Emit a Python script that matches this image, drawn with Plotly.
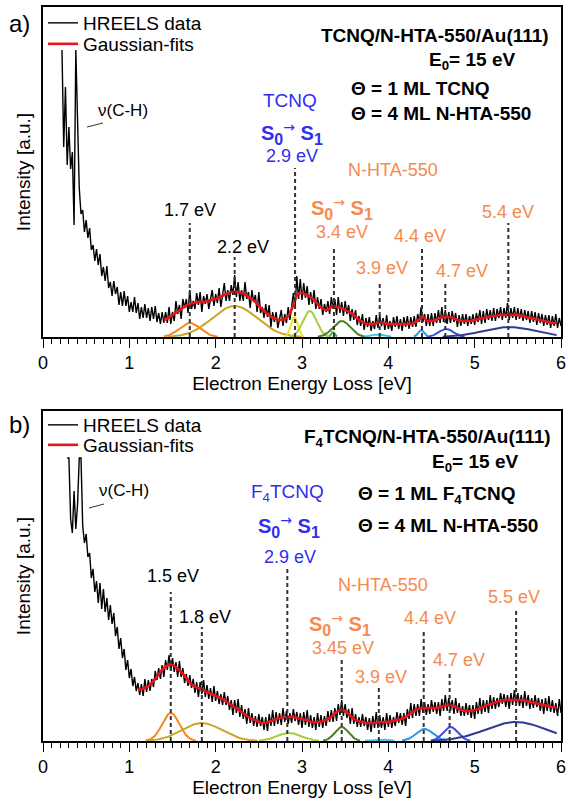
import numpy as np
import plotly.graph_objects as go
from plotly.subplots import make_subplots

# ============ DATA (intensity in arbitrary units) ============
# ---- panel a) TCNQ/N-HTA-550/Au(111) ----
A_DATA_X0 = 0.22
A_DATA_STEP = 0.02
A_DATA = [
    287, 190, 250, 172, 210, 168, 185, 112, 287, 230,
    149, 123, 127, 105, 117, 99, 109, 87, 92, 76,
    88, 72, 83, 61, 70, 56, 71, 49, 55, 41,
    56, 43, 50, 32, 45, 31, 46, 31, 41, 25,
    35, 25, 40, 24, 34, 18, 30, 19, 33, 19,
    29, 16, 30, 18, 31, 15, 24, 13, 25, 14,
    25, 14, 30, 13, 25, 16, 36, 23, 32, 18,
    38, 29, 38, 24, 47, 28, 36, 28, 44, 32,
    45, 25, 41, 33, 43, 28, 40, 47, 31, 43,
    34, 49, 30, 43, 54, 36, 47, 36, 52, 42,
    62, 40, 55, 36, 47, 36, 55, 38, 45, 29,
    47, 35, 42, 25, 45, 24, 30, 19, 33, 20,
    32, 10, 25, 15, 25, 9, 20, 27, 11, 23,
    14, 30, 17, 30, 44, 30, 61, 38, 58, 37,
    54, 39, 51, 32, 45, 33, 47, 28, 40, 28,
    38, 22, 33, 25, 36, 23, 40, 28, 38, 22,
    40, 24, 35, 21, 36, 23, 32, 16, 28, 17,
    27, 12, 21, 11, 23, 7, 19, 10, 20, 6,
    16, 8, 22, 9, 22, 11, 19, 7, 22, 8,
    16, 6, 20, 10, 21, 8, 18, 6, 20, 10,
    21, 8, 20, 10, 21, 10, 23, 15, 30, 15,
    23, 11, 23, 11, 24, 11, 24, 14, 27, 14,
    30, 15, 27, 13, 25, 14, 26, 15, 24, 10,
    22, 11, 23, 13, 23, 11, 21, 13, 23, 12,
    24, 15, 27, 13, 26, 14, 28, 17, 27, 16,
    29, 16, 28, 19, 30, 17, 29, 19, 34, 17,
    29, 19, 30, 17, 29, 18, 28, 16, 27, 17,
    26, 14, 26, 15, 25, 12, 24, 14, 23, 11,
    22, 12, 22, 9, 21, 11, 23, 9, 19, 11,
]
A_FIT_X0 = 1.40
A_FIT_STEP = 0.05
A_FIT = [
    17, 19, 22, 25, 28, 31, 33, 34, 35, 35,
    36, 37, 38, 40, 42, 44, 45, 45, 44, 42,
    39, 36, 31, 27, 23, 20, 18, 17, 18, 22,
    32, 43, 44, 42, 40, 36, 31, 28, 27, 31,
    30, 29, 27, 25, 22, 18, 15, 13, 13, 13,
    15, 14, 13, 13, 13, 13, 13, 13, 14, 17,
    20, 16, 16, 17, 19, 20, 20, 19, 17, 16,
    16, 16, 17, 18, 19, 20, 21, 21, 22, 22,
    22, 22, 22, 21, 20, 19, 18, 17, 16, 15,
    14, 14,
]
A_PEAK_CENTER = [1.70, 2.22, 2.91, 3.09, 3.36, 3.46, 3.88, 4.38, 4.67, 5.40]
A_PEAK_HEIGHT = [14, 31, 20, 26, 5, 16, 2.5, 7, 8, 10]
A_PEAK_WIDTH = [0.12, 0.26, 0.04, 0.08, 0.02, 0.10, 0.08, 0.035, 0.085, 0.30]
A_MARK_E = [1.70, 2.22, 2.92, 3.37, 3.90, 4.39, 4.66, 5.39]
A_MARK_LABEL = ["1.7 eV", "2.2 eV", "2.9 eV", "3.4 eV", "3.9 eV", "4.4 eV", "4.7 eV", "5.4 eV"]

# ---- panel b) F4TCNQ/N-HTA-550/Au(111) ----
B_DATA_X0 = 0.28
B_DATA_STEP = 0.02
B_DATA = [
    283, 283, 222, 208, 250, 212, 236, 283, 283,
    215, 198, 207, 184, 188, 163, 172, 149, 160, 138,
    158, 132, 152, 129, 143, 121, 136, 117, 128, 105,
    114, 92, 103, 83, 92, 71, 81, 63, 72, 55,
    64, 50,
    58, 46, 57, 45, 62, 49, 61, 50, 62, 54,
    70, 61, 73, 62, 76, 64, 81, 71, 86, 70,
    83, 69, 79, 64, 80, 64, 73, 58, 67, 55,
    66, 53, 62, 48, 59, 44, 59, 47, 61, 44,
    56, 42, 53, 39, 55, 40, 50, 37, 47, 36,
    49, 36, 45, 31, 41, 26, 41, 28, 42, 24,
    36, 22, 32, 17, 33, 18, 28, 15, 25, 14,
    27, 15, 24, 11, 24, 10, 27, 15, 31, 15,
    29, 17, 28, 16, 33, 19, 30, 17, 28, 18,
    32, 20, 29, 16, 28, 13, 29, 16, 31, 14,
    26, 13, 24, 11, 28, 14, 26, 13, 25, 15,
    30, 19, 31, 19, 33, 20, 37, 26, 41, 25,
    37, 23, 32, 17, 33, 17, 27, 14, 24, 14,
    27, 15, 24, 11, 23, 9, 25, 13, 29, 13,
    26, 13, 24, 11, 28, 14, 26, 13, 24, 15,
    29, 18, 28, 16, 28, 15, 32, 22, 38, 23,
    37, 25, 37, 25, 42, 28, 39, 26, 37, 27,
    41, 29, 39, 27, 39, 25, 42, 30, 46, 30,
    43, 30, 41, 27, 43, 28, 38, 25, 35, 25,
    38, 26, 36, 23, 36, 22, 39, 27, 43, 27,
    41, 29, 41, 28, 46, 32, 44, 32, 43, 34,
    48, 37, 47, 34, 46, 32, 48, 36, 51, 35,
    48, 35, 46, 33, 50, 35, 46, 32, 43, 33,
    46, 34, 43, 30, 42, 27, 43, 30, 45, 29,
    41, 28, 38, 25, 42, 28,
]
B_FIT_X0 = 1.10
B_FIT_STEP = 0.05
B_FIT = [
    51, 52, 54, 57, 62, 68, 73, 76, 76, 73,
    69, 64, 58, 55, 53, 51, 49, 47, 45, 43,
    41, 38, 35, 32, 29, 26, 23, 21, 19, 18,
    19, 20, 22, 23, 24, 24, 24, 23, 22, 21,
    19, 19, 19, 20, 22, 25, 29, 31, 30, 26,
    22, 20, 19, 18, 18, 18, 19, 19, 19, 20,
    21, 22, 24, 27, 30, 32, 33, 33, 33, 33,
    34, 35, 36, 35, 33, 31, 30, 30, 31, 32,
    34, 36, 37, 39, 40, 41, 41, 41, 41, 41,
    40, 39, 38, 37, 36, 35, 34, 33,
]
B_PEAK_CENTER = [1.48, 1.84, 2.85, 3.46, 3.90, 4.42, 4.72, 5.48]
B_PEAK_HEIGHT = [28, 18, 8, 14, 1.5, 12, 14, 19]
B_PEAK_WIDTH = [0.10, 0.23, 0.14, 0.08, 0.10, 0.10, 0.085, 0.35]
B_MARK_E = [1.48, 1.84, 2.83, 3.46, 3.89, 4.41, 4.71, 5.48]
B_MARK_LABEL = ["1.5 eV", "1.8 eV", "2.9 eV", "3.45 eV", "3.9 eV", "4.4 eV", "4.7 eV", "5.5 eV"]

X_TICKS = [0, 1, 2, 3, 4, 5, 6]

# ============ STYLE / LAYOUT ============
FONT = "Liberation Sans, Arial, sans-serif"
BLUE = "#2f2fee"
ORANGE = "#f68a4e"
DASH = "#333333"
A_COMP_COLORS = ["#f4871f", "#c9a628", "#ece12b", "#a5cf3a", "#3fb24a",
                 "#4b7f1f", "#3cc5e6", "#2b97e6", "#3b4ee6", "#333a96"]
B_COMP_COLORS = ["#f4871f", "#c9a628", "#a5cf3a", "#4b7f1f",
                 "#3cc5e6", "#2b97e6", "#3b4ee6", "#333a96"]
A_MARK_COLORS = ["black", "black", BLUE] + [ORANGE] * 5
B_MARK_COLORS = ["black", "black", BLUE] + [ORANGE] * 5
A_MARK_TOP = [114, 80, 169, 88, 56, 89, 56, 114]
A_LABEL_Y = [127, 90, 181, 105, 69, 101, 66, 125]
A_LABEL_DX = [0, 8, -3, 8, 2, -2, 17, 0]
B_MARK_TOP = [149, 114, 174, 81, 54, 111, 70, 133]
B_LABEL_Y = [165, 124, 184, 93, 64, 123, 81, 144]
B_LABEL_DX = [2, 3, 3, 1, 2, 6, 9, -2]

W, H = 568, 802
ML, MR, MT, MB = 43, 7, 7, 61
PW, PH = W - ML - MR, H - MT - MB
Y_MAX = 330


def P(px, py):
    return (px - ML) / PW, (H - MB - py) / PH


def gauss(x, c, h, w):
    return h * np.exp(-0.5 * ((x - c) / w) ** 2)


fig = make_subplots(rows=2, cols=1)


def add_panel(row, d_x0, d_step, data, f_x0, f_step, fit, centers, heights, widths,
              comp_colors, leg_data, leg_fit):
    xd = np.round(d_x0 + d_step * np.arange(len(data)), 4)
    xf = np.round(f_x0 + f_step * np.arange(len(fit)), 4)
    xc = np.linspace(xf[0], xf[-1], 700)
    for c, h, w, col in zip(centers, heights, widths, comp_colors):
        yc = gauss(xc, c, h, w)
        yc = np.where(yc > 0.35, yc, np.nan)
        fig.add_trace(go.Scatter(x=xc, y=yc, mode="lines", line=dict(color=col, width=2),
                                 showlegend=False, hoverinfo="skip"), row=row, col=1)
    fig.add_trace(go.Scatter(x=xd, y=data, mode="lines", name="HREELS data",
                             line=dict(color="black", width=1.4), legend=leg_data),
                  row=row, col=1)
    fig.add_trace(go.Scatter(x=xf, y=fit, mode="lines", name="Gaussian-fits",
                             line=dict(color="#e8141a", width=2.6, shape="spline", smoothing=1),
                             legend=leg_fit),
                  row=row, col=1)


add_panel(1, A_DATA_X0, A_DATA_STEP, A_DATA, A_FIT_X0, A_FIT_STEP, A_FIT,
          A_PEAK_CENTER, A_PEAK_HEIGHT, A_PEAK_WIDTH, A_COMP_COLORS, "legend", "legend2")
add_panel(2, B_DATA_X0, B_DATA_STEP, B_DATA, B_FIT_X0, B_FIT_STEP, B_FIT,
          B_PEAK_CENTER, B_PEAK_HEIGHT, B_PEAK_WIDTH, B_COMP_COLORS, "legend3", "legend4")

shapes = []
annotations = []


def add_marks(xref, yref, energies, labels, tops, label_y, dx, colors):
    for e, lab, top, ly, sx, col in zip(energies, labels, tops, label_y, dx, colors):
        shapes.append(dict(type="line", xref=xref, yref=yref, x0=e, x1=e, y0=0, y1=top,
                           line=dict(color=DASH, width=2, dash="4px,3px"), layer="above"))
        annotations.append(dict(xref=xref, yref=yref, x=e, y=ly, text=lab, showarrow=False,
                                xanchor="center", yanchor="middle", xshift=sx,
                                font=dict(size=18, color=col, family=FONT)))


add_marks("x", "y", A_MARK_E, A_MARK_LABEL, A_MARK_TOP, A_LABEL_Y, A_LABEL_DX, A_MARK_COLORS)
add_marks("x2", "y2", B_MARK_E, B_MARK_LABEL, B_MARK_TOP, B_LABEL_Y, B_LABEL_DX, B_MARK_COLORS)


def txt(px, py, text, size=18, color="black", xanchor="center"):
    x, y = P(px, py)
    annotations.append(dict(xref="paper", yref="paper", x=x, y=y, text=text, showarrow=False,
                            xanchor=xanchor, yanchor="middle",
                            font=dict(size=size, color=color, family=FONT)))


S01 = ("<b>S<sub><span style='font-size:16px'>0</span></sub></b>"
       "<sup><span style='font-family:DejaVu Sans;font-size:14px'>\u2192</span></sup>"
       "<b> S<sub><span style='font-size:16px'>1</span></sub></b>")
# panel a texts
txt(19, 24, "a)", size=24)
txt(551, 35, "<b>TCNQ/N-HTA-550/Au(111)</b>", size=19, xanchor="right")
txt(427, 61, "<b>E<sub>0</sub>= 15 eV</b>", size=19, xanchor="left")
txt(349, 89, "<b>\u0398 = 1 ML TCNQ</b>", size=19, xanchor="left")
txt(349, 114, "<b>\u0398 = 4 ML N-HTA-550</b>", size=19, xanchor="left")
txt(290, 100, "TCNQ", size=19, color=BLUE)
txt(292, 133, S01, size=20, color=BLUE)
txt(393, 170, "N-HTA-550", color=ORANGE)
txt(342, 208, S01, size=20, color=ORANGE)
txt(123, 110, "\u03bd(C-H)", size=17)
# panel b texts
txt(19, 424, "b)", size=24)
txt(553, 438, "<b>F<sub>4</sub>TCNQ/N-HTA-550/Au(111)</b>", size=19, xanchor="right")
txt(430, 463, "<b>E<sub>0</sub>= 15 eV</b>", size=19, xanchor="left")
txt(356, 495, "<b>\u0398 = 1 ML F<sub>4</sub>TCNQ</b>", size=19, xanchor="left")
txt(356, 525, "<b>\u0398 = 4 ML N-HTA-550</b>", size=19, xanchor="left")
txt(287, 493, "F<sub>4</sub>TCNQ", size=19, color=BLUE)
txt(289, 526, S01, size=20, color=BLUE)
txt(383, 585, "N-HTA-550", color=ORANGE)
txt(340, 624, S01, size=20, color=ORANGE)
txt(124, 490, "\u03bd(C-H)", size=17)

for (x0p, y0p, x1p, y1p) in [(87, 127, 103, 123), (89, 508, 104, 504)]:
    a0 = P(x0p, y0p)
    a1 = P(x1p, y1p)
    shapes.append(dict(type="line", xref="paper", yref="paper", x0=a0[0], y0=a0[1],
                       x1=a1[0], y1=a1[1], line=dict(color="#333333", width=1)))

xaxis_common = dict(range=[0, 6], tickmode="array", tickvals=X_TICKS,
                    ticktext=[str(t) for t in X_TICKS], ticklabeloverflow="allow",
                    ticks="outside", ticklen=9, tickwidth=1.3, tickcolor="black",
                    minor=dict(tickmode="linear", tick0=0, dtick=0.1, ticks="outside",
                               ticklen=5, tickwidth=1, tickcolor="black"),
                    showline=True, linecolor="black", linewidth=1.5, mirror=True,
                    showgrid=False, zeroline=False,
                    tickfont=dict(size=18, family=FONT, color="black"),
                    title=dict(text="Electron Energy Loss [eV]", standoff=4,
                               font=dict(size=19, family=FONT, color="black")))
yaxis_common = dict(range=[0, Y_MAX], showticklabels=False, ticks="",
                    showline=True, linecolor="black", linewidth=1.5, mirror=True,
                    showgrid=False, zeroline=False,
                    title=dict(text="Intensity [a.u.]", standoff=6,
                               font=dict(size=19, family=FONT, color="black")))

a_bot = (H - MB - 337) / PH
b_top = (H - MB - 411) / PH


def leg(py):
    return dict(x=0.0, y=P(0, py)[1], xanchor="left", yanchor="middle",
                bgcolor="rgba(0,0,0,0)", font=dict(size=19, family=FONT, color="black"),
                itemwidth=30, borderwidth=0)


fig.update_layout(
    width=W, height=H,
    margin=dict(l=ML, r=MR, t=MT, b=MB, autoexpand=False),
    paper_bgcolor="white", plot_bgcolor="white",
    font=dict(family=FONT, color="black"),
    xaxis=dict(domain=[0, 1], anchor="y", **xaxis_common),
    xaxis2=dict(domain=[0, 1], anchor="y2", **xaxis_common),
    yaxis=dict(domain=[a_bot, 1.0], anchor="x", **yaxis_common),
    yaxis2=dict(domain=[0, b_top], anchor="x2", **yaxis_common),
    legend=leg(23), legend2=leg(44), legend3=leg(425), legend4=leg(445),
    shapes=shapes,
    annotations=annotations,
)

fig.write_html("out.html", config={"displayModeBar": False},
               post_script="document.body.style.margin='0';")
